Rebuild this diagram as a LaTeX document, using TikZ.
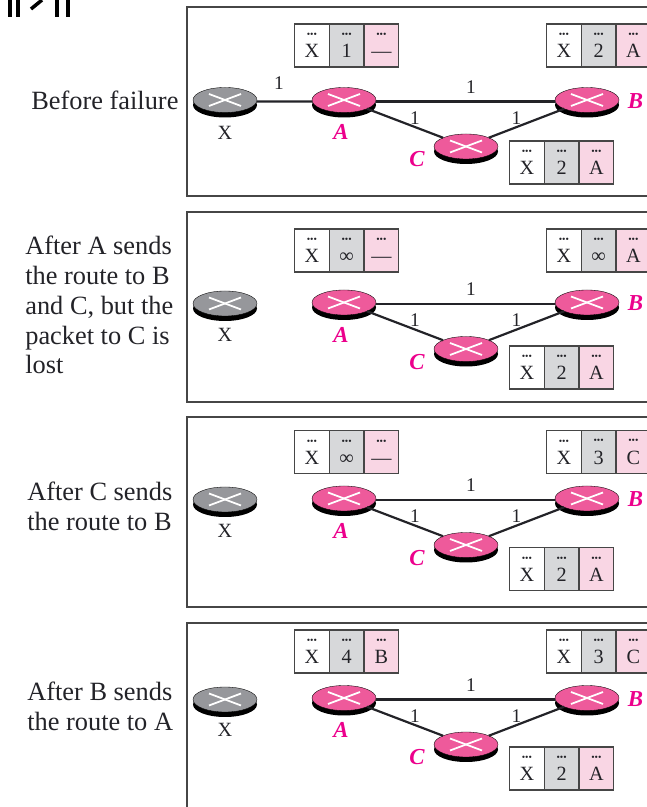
\documentclass[tikz,border=0pt]{standalone}
\usepackage{fontspec}
\setmainfont{Liberation Serif}
\usepackage{tikz}
\usetikzlibrary{positioning,shapes.geometric,shadows}
\definecolor{routerpink}{RGB}{238,90,155}
\definecolor{routergray}{RGB}{150,151,155}
\definecolor{labelpink}{RGB}{236,0,140}
\definecolor{cellgray}{RGB}{215,216,218}
\definecolor{cellpink}{RGB}{249,214,228}
\definecolor{framegray}{RGB}{70,70,70}
\definecolor{inkblack}{RGB}{35,35,40}
\tikzset{
  router/.style={ellipse,draw=black,line width=0.2pt,fill=routerpink,minimum width=1.28cm,minimum height=0.5cm,inner sep=0pt,outer sep=0pt,
    general shadow={shadow yshift=-0.1cm,fill=black},
    path picture={\draw[white,line width=1pt] (path picture bounding box.center) ++(-0.32,-0.12) -- ++(0.64,0.24);
      \draw[white,line width=1pt] (path picture bounding box.center) ++(-0.32,0.12) -- ++(0.64,-0.24);}},
  deadrouter/.style={router,fill=routergray},
  link/.style={line width=1.25pt,inkblack},
  weight/.style={font=\fontsize{11}{11}\selectfont,text=inkblack,inner sep=0pt},
  hostname/.style={font=\fontsize{11.5}{12}\selectfont,text=inkblack,inner sep=0pt},
  routername/.style={font=\fontsize{13}{13}\selectfont\bfseries\itshape,text=labelpink,inner sep=0pt},
  caption/.style={font=\fontsize{15}{17}\selectfont,text=inkblack,align=left,anchor=west,inner sep=0pt},
  panel/.style={draw=framegray,line width=1pt},
  cell/.style={draw=framegray,line width=0.6pt,minimum width=0.695cm,minimum height=0.86cm,inner sep=0pt,outer sep=0pt,align=center,text=inkblack,font=\fontsize{11.5}{11.5}\selectfont},
  graycell/.style={cell,fill=cellgray},
  pinkcell/.style={cell,fill=cellpink},
  torn/.style={line width=2pt,black}
}
\newcommand{\celldots}{{\fontsize{5.5}{6}\selectfont •••}}
\newcommand{\rtable}[5]{
  \node[cell,fill=white,anchor=north west] (#1a) at (#2) {\celldots\\#3};
  \node[graycell,right=0pt of #1a] (#1b) {\celldots\\#4};
  \node[pinkcell,right=0pt of #1b] (#1c) {\celldots\\#5};
}
\newcommand{\network}[2]{
  \begin{scope}[yshift=#2cm]
    \node[router] (A#1) at (6.88,0) {};
    \node[router] (B#1) at (11.74,0) {};
    \node[router] (C#1) at (9.32,-0.93) {};
    \draw[link] ([yshift=-0.03cm]A#1.east) -- ([yshift=-0.03cm]B#1.west);
    \draw[link] (A#1) -- (C#1);
    \draw[link] (C#1) -- (B#1);
    \node[weight] (wab#1) at (9.42,0.26) {1};
    \node[weight] (wac#1) at (8.3,-0.36) {1};
    \node[weight] (wcb#1) at (10.33,-0.36) {1};
    \node[routername] (nA#1) at (6.82,-0.64) {A};
    \node[routername] (nB#1) at (12.71,-0.02) {B};
    \node[routername] (nC#1) at (8.34,-1.19) {C};
  \end{scope}
}
\begin{document}
\begin{tikzpicture}
  \clip (0,0) rectangle (12.94,16.14);

  \draw[torn] (0.2,16.2) -- (0.2,15.8);
  \draw[torn] (0.36,16.2) -- (0.36,15.8);
  \draw[torn] (0.62,15.96) -- (0.84,16.14);
  \draw[torn] (1.14,16.2) -- (1.14,15.8);
  \draw[torn] (1.36,16.2) -- (1.36,15.8);

  \draw[panel] (3.74,16) rectangle (13.3,12.22);
  \draw[panel] (3.74,11.9) rectangle (13.3,8.1);
  \draw[panel] (3.74,7.8) rectangle (13.3,4);
  \draw[panel] (3.74,3.68) rectangle (13.3,-0.3);

  \node[caption] (before) at (0.62,14.14) {Before failure};
  \node[caption] (aftera) at (0.5,10.04) {After A sends\\the route to B\\and C, but the\\packet to C is\\lost};
  \node[caption] (afterc) at (0.54,6.02) {After C sends\\the route to B};
  \node[caption] (afterb) at (0.54,2.02) {After B sends\\the route to A};

  \node[deadrouter] (X1) at (4.5,14.14) {};
  \node[deadrouter] (X2) at (4.5,10.07) {};
  \node[deadrouter] (X3) at (4.5,6.15) {};
  \node[deadrouter] (X4) at (4.5,2.15) {};
  \node[hostname] (nX1) at (4.5,13.48) {X};
  \node[hostname] (nX2) at (4.5,9.44) {X};
  \node[hostname] (nX3) at (4.5,5.53) {X};
  \node[hostname] (nX4) at (4.5,1.54) {X};

  \network{1}{14.14}
  \network{2}{10.09}
  \network{3}{6.17}
  \network{4}{2.18}

  \draw[link] ([yshift=-0.03cm]X1.east) -- ([yshift=-0.03cm]A1.west);
  \node[weight] (wxa) at (5.58,14.48) {1};

  \rtable{ta1}{5.89,15.66}{X}{1}{—}
  \rtable{tb1}{10.93,15.66}{X}{2}{A}
  \rtable{tc1}{10.19,13.32}{X}{2}{A}

  \rtable{ta2}{5.89,11.56}{X}{∞}{—}
  \rtable{tb2}{10.93,11.56}{X}{∞}{A}
  \rtable{tc2}{10.19,9.22}{X}{2}{A}

  \rtable{ta3}{5.89,7.53}{X}{∞}{—}
  \rtable{tb3}{10.93,7.53}{X}{3}{C}
  \rtable{tc3}{10.19,5.19}{X}{2}{A}

  \rtable{ta4}{5.89,3.54}{X}{4}{B}
  \rtable{tb4}{10.93,3.54}{X}{3}{C}
  \rtable{tc4}{10.19,1.2}{X}{2}{A}
\end{tikzpicture}
\end{document}
